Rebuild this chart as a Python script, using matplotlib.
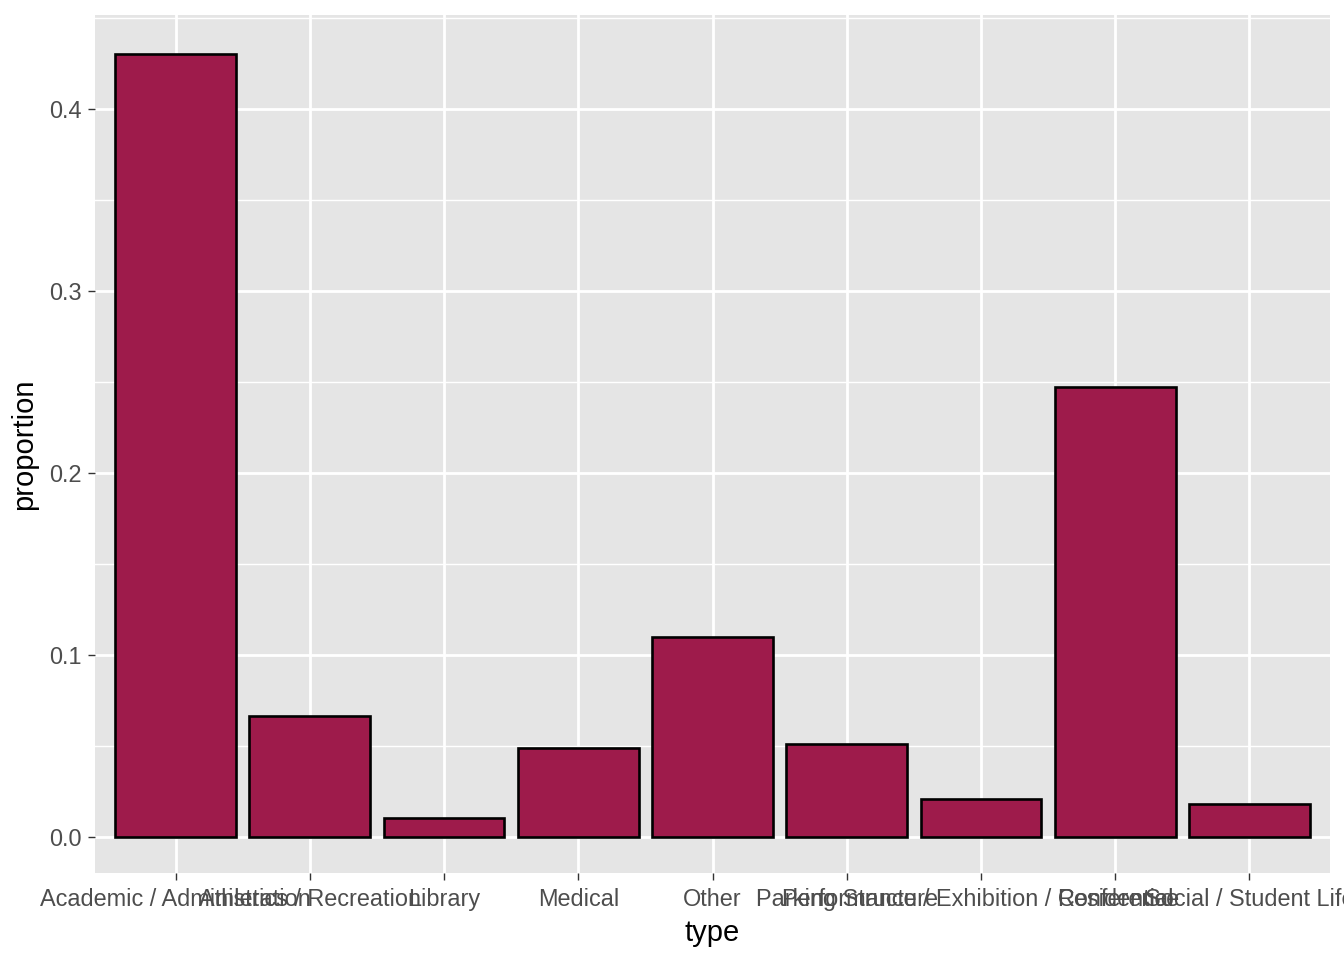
import matplotlib
matplotlib.use("Agg")
import matplotlib.pyplot as plt
import numpy as np

# building types and their share
types = ["Academic / Administration", "Athletics / Recreation", "Library", "Medical",
         "Other", "Parking Structure", "Performance / Exhibition / Conference",
         "Residential", "Social / Student Life"]
proportion = [0.430, 0.0665, 0.0104, 0.0489, 0.1099, 0.0511, 0.0209, 0.2473, 0.0181]
yticks = [0.0, 0.1, 0.2, 0.3, 0.4]
yminor = [0.05, 0.15, 0.25, 0.35, 0.45]

plt.rcParams["font.family"] = ["Liberation Sans", "DejaVu Sans"]

fig = plt.figure(figsize=(13.44, 9.6), dpi=100)
ax = fig.add_axes([95 / 1344, 87 / 960, 1235 / 1344, 858 / 960])
ax.set_facecolor("#E5E5E5")

x = np.arange(len(types))
ax.bar(x, proportion, width=0.9, color="#9E1B4B", edgecolor="black", linewidth=1.9, zorder=3)

ax.set_xlim(-0.6, len(types) - 0.4)
ax.set_ylim(-0.0198, 0.4516)

ax.set_xticks(x)
ax.set_xticklabels(types)
ax.set_yticks(yticks)
ax.set_yticklabels([f"{v:.1f}" for v in yticks])
ax.set_yticks(yminor, minor=True)

ax.grid(which="major", color="white", linewidth=2.0, zorder=1)
ax.grid(which="minor", axis="y", color="white", linewidth=1.0, zorder=1)
ax.set_axisbelow(True)

for s in ax.spines.values():
    s.set_visible(False)

ax.tick_params(axis="both", which="major", length=5.3, width=1.0, color="#333333",
               labelcolor="#4D4D4D", labelsize=16.9, pad=4)
ax.tick_params(axis="x", which="major", pad=5.5)
ax.tick_params(axis="both", which="minor", length=0)

ax.set_xlabel("type", fontsize=21, color="black", labelpad=6)
ax.set_ylabel("proportion", fontsize=21, color="black", labelpad=8)

fig.savefig("out.png", dpi=100)
